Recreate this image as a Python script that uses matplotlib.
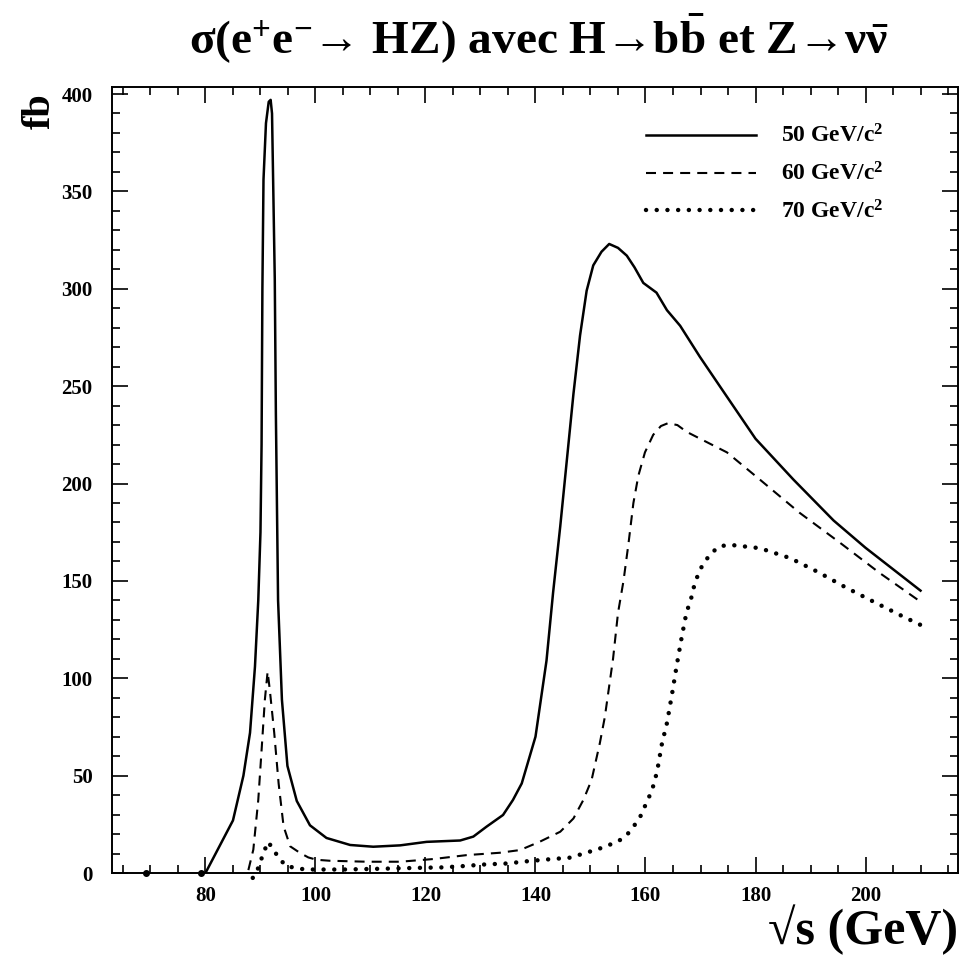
import matplotlib
matplotlib.use('Agg')
import matplotlib.pyplot as plt
from matplotlib.ticker import MultipleLocator

# sqrt(s) in GeV, sigma in fb, for three Higgs masses
x50 = [80, 85, 86.9, 88.1, 89, 89.6, 90.0, 90.2, 90.35, 90.55, 91.0, 91.5, 91.85, 92.1, 92.3,
       92.6, 92.8, 93.2, 93.9, 94.9, 96.6, 99, 102, 106.3, 110.5, 115.4, 120.2, 126.3, 128.7,
       131.1, 134.1, 135.9, 137.5, 140, 142, 143.2, 144.5, 145.7, 146.9, 148.1, 149.3, 150.5,
       152, 153.4, 155, 156.6, 158, 159.6, 162, 163.9, 166.3, 169.9, 173.5, 180, 186.9, 194.2,
       200, 210]
y50 = [0, 27, 50, 72, 106, 140, 175, 220, 300, 356, 385, 396, 397, 390, 356,
       305, 236, 140, 89, 55, 37, 24.5, 18, 14.4, 13.5, 14.2, 16, 16.7, 18.7,
       23.8, 29.8, 37.5, 46, 70, 109, 144, 178, 212, 246, 276, 299, 312,
       319, 323, 321, 317, 311, 303, 298, 289, 281, 265, 250, 223, 202, 181,
       167, 145]

x60 = [87.8, 88.7, 89.6, 90.2, 90.8, 91.3, 91.7, 92.5, 93.3, 94.2, 95.4, 97.2, 98.7, 100.2,
       102.6, 109.3, 115.4, 121.5, 127.5, 133.5, 137.2, 140.8, 144.5, 146.9, 148.7, 150.2,
       151.7, 152.6, 154.1, 155, 156, 156.9, 157.8, 158.7, 159.9, 161.4, 162.8, 164.1, 165.8,
       167.5, 174.8, 180.8, 188, 195.4, 202.6, 209.9]
y60 = [1.5, 12, 37.5, 63, 89, 103.4, 94, 72, 46, 24, 13.7, 10.3, 8, 6.8,
       6.3, 5.8, 5.8, 7.2, 9.2, 10.4, 11.8, 16.1, 21.2, 28, 37.5, 47.8,
       66.7, 80, 110, 133.5, 150, 169, 190, 204, 216, 225, 229.5, 231, 230,
       226.5, 216, 202, 185, 169.5, 154, 139.5]

x70 = [88.6, 89.5, 90.1, 90.7, 91.4, 92.3, 93.4, 94.6, 96.4, 98.3, 105, 112, 119.5, 123.3,
       127.1, 130.8, 134.8, 138.7, 142.3, 146.3, 149.9, 151.7, 153.4, 155.2, 156.6, 157.8,
       158.9, 160.4, 161.2, 162.1, 163, 163.9, 164.8, 165.7, 166.6, 167.3, 167.8, 168.3,
       168.7, 169.3, 169.9, 170.8, 172, 173.5, 175.4, 180.8, 186.3, 191.4, 196.3, 201.4,
       206.6, 210]
y70 = [-2.5, 2, 6.7, 11.4, 16, 12.2, 7.5, 3.8, 2.5, 1.8, 1.8, 2.2, 2.7, 2.9,
       3.6, 4.4, 4.9, 6.1, 7, 7.9, 11, 12.6, 14.4, 16.6, 19.5, 23.8,
       28, 37.5, 42.6, 52, 66.6, 77, 91.5, 107, 121.4, 131.6, 136.8, 141,
       146, 151.3, 155.7, 160, 164.4, 167.8, 168.5, 166.8, 161.7, 154.5, 146.8, 139.4,
       132, 127.4]
# lone dots of the 70 GeV curve sitting on the axis
x70_low = [69.2, 79.1]
y70_low = [0, 0]

labels = ['50 GeV/c$^{2}$', '60 GeV/c$^{2}$', '70 GeV/c$^{2}$']

plt.rcParams['font.family'] = ['Liberation Serif', 'DejaVu Serif']
plt.rcParams['font.weight'] = 'bold'
plt.rcParams['mathtext.fontset'] = 'custom'
plt.rcParams['mathtext.rm'] = 'Liberation Serif:bold'
plt.rcParams['mathtext.it'] = 'Liberation Serif:bold'
plt.rcParams['mathtext.bf'] = 'Liberation Serif:bold'

fig = plt.figure(figsize=(9.61, 9.56), dpi=100)
ax = fig.add_axes([0.1165, 0.0868, 0.8803, 0.8222])

ax.plot(x50, y50, color='black', lw=1.8, label=labels[0])
ax.plot(x60, y60, color='black', lw=1.5, linestyle=(0, (4.8, 3.4)), label=labels[1])
ax.plot(x70, y70, color='black', lw=3.2, linestyle=(0, (0.01, 2.4)),
        dash_capstyle='round', clip_on=False, label=labels[2])
ax.plot(x70_low, y70_low, 'o', color='black', ms=4, clip_on=False)

ax.set_xlim(63, 216.8)
ax.set_ylim(0, 403.6)
ax.xaxis.set_major_locator(MultipleLocator(20))
ax.xaxis.set_minor_locator(MultipleLocator(5))
ax.yaxis.set_major_locator(MultipleLocator(50))
ax.yaxis.set_minor_locator(MultipleLocator(10))
ax.tick_params(which='both', direction='in', top=True, right=True, width=1.2, labelsize=15)
ax.tick_params(which='major', length=11.5)
ax.tick_params(which='minor', length=5.8)
ax.tick_params(axis='y', which='major', pad=14)
ax.tick_params(axis='x', which='major', pad=9)
for sp in ax.spines.values():
    sp.set_linewidth(1.4)

leg = ax.legend(loc='upper left', bbox_to_anchor=(0.606, 0.979), frameon=False,
                fontsize=17, handlelength=4.66, handletextpad=1.06, labelspacing=0.62)

fig.text(0.561, 0.96, r'$\sigma$(e$^{+}$e$^{-}$→ HZ) avec H→b$\bar{b}$ et Z→ν$\bar{\nu}$',
         ha='center', va='center', fontsize=34, fontweight='bold')
fig.text(0.042, 0.884, 'fb', rotation=90, ha='center', va='center', fontsize=29, fontweight='bold')
fig.text(0.997, 0.027, '√s (GeV)', ha='right', va='center', fontsize=36, fontweight='bold')

plt.savefig('out.png', dpi=100)
